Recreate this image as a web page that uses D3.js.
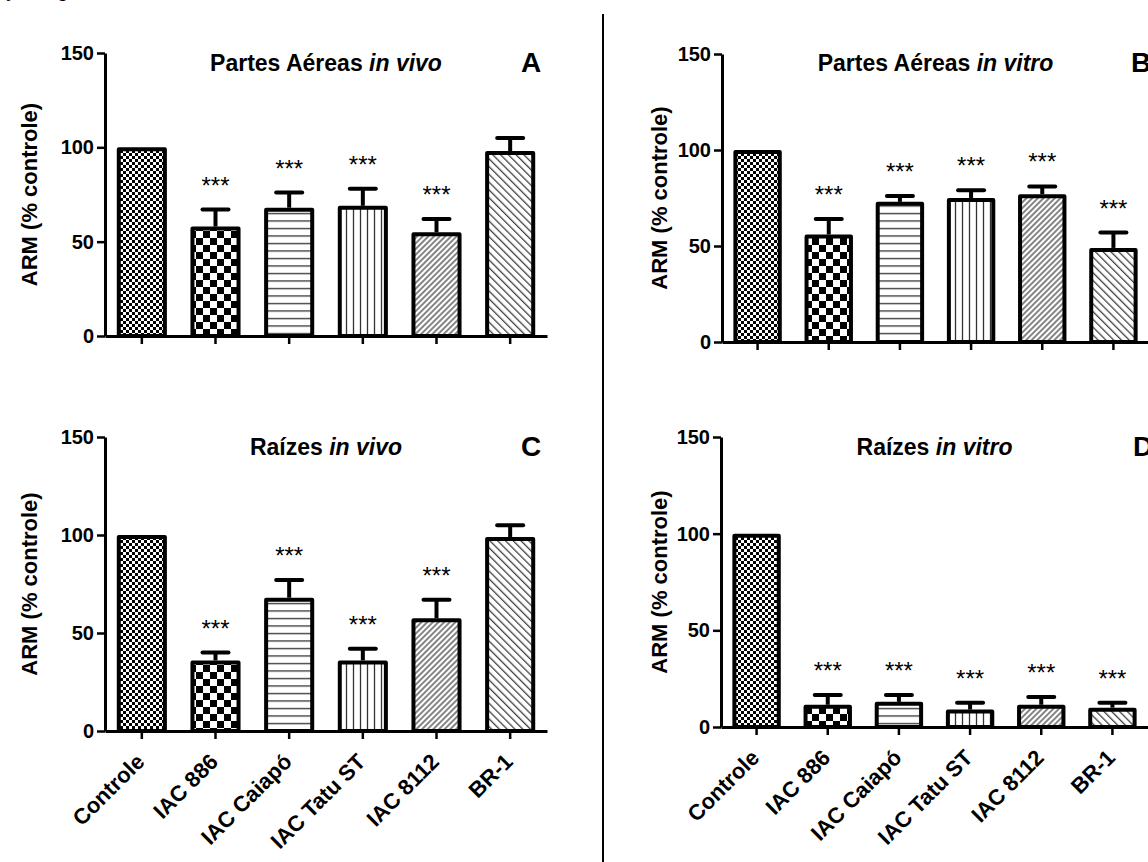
<!DOCTYPE html>
<html>
<head>
<meta charset="utf-8">
<script src="https://cdn.jsdelivr.net/npm/d3@7"></script>
<style>
  body { margin: 0; background: #fff; }
  svg { display: block; font-family: "Liberation Sans", Arial, sans-serif; }
  .tick text { font-weight: bold; font-size: 20px; fill: #000; }
  .xlab .tick text { font-size: 22px; }
  .ytitle { font-weight: bold; font-size: 22px; }
  .ptitle { font-weight: bold; font-size: 23px; }
  .letter { font-weight: bold; font-size: 28px; }
  .stars { font-size: 24px; }
</style>
</head>
<body>
<script>
var categories = ["Controle", "IAC 886", "IAC Caiapó", "IAC Tatu ST", "IAC 8112", "BR-1"];
var yTicks = [0, 50, 100, 150];

// means and upper error (SEM)
var aereasVivo = [100, 58, 68, 69, 55, 98];
var aereasVivoErr = [0, 9, 8, 9, 7, 7];
var aereasVivoStars = ["", "***", "***", "***", "***", ""];

var aereasVitro = [100, 56, 73, 75, 77, 49];
var aereasVitroErr = [0, 8, 3, 4, 4, 8];
var aereasVitroStars = ["", "***", "***", "***", "***", "***"];

var raizesVivo = [100, 36, 68, 36, 57.5, 99];
var raizesVivoErr = [0, 4, 9, 6, 9.5, 6];
var raizesVivoStars = ["", "***", "***", "***", "***", ""];

var raizesVitro = [100, 11.5, 13, 9, 11.5, 10];
var raizesVitroErr = [0, 5, 3.5, 3.5, 4, 2.5];
var raizesVitroStars = ["", "***", "***", "***", "***", "***"];

var fills = ["url(#fineCheck)", "url(#bigCheck)", "url(#hLines)", "url(#vLines)", "url(#diagUp)", "url(#diagDown)"];

var width = 1148, height = 862;

const svg = d3.select("body").append("svg")
  .attr("width", width)
  .attr("height", height);

// patterns
var defs = svg.append("defs");
var p1 = defs.append("pattern").attr("id", "fineCheck").attr("patternUnits", "userSpaceOnUse")
  .attr("width", 6).attr("height", 6);
p1.append("rect").attr("width", 6).attr("height", 6).attr("fill", "#fff");
p1.append("rect").attr("width", 3).attr("height", 3).attr("fill", "#000");
p1.append("rect").attr("x", 3).attr("y", 3).attr("width", 3).attr("height", 3).attr("fill", "#000");

var p2 = defs.append("pattern").attr("id", "bigCheck").attr("patternUnits", "userSpaceOnUse")
  .attr("width", 14).attr("height", 14);
p2.append("rect").attr("width", 14).attr("height", 14).attr("fill", "#fff");
p2.append("rect").attr("width", 7).attr("height", 7).attr("fill", "#000");
p2.append("rect").attr("x", 7).attr("y", 7).attr("width", 7).attr("height", 7).attr("fill", "#000");

var p3 = defs.append("pattern").attr("id", "hLines").attr("patternUnits", "userSpaceOnUse")
  .attr("width", 10).attr("height", 7.5);
p3.append("rect").attr("width", 10).attr("height", 7.5).attr("fill", "#fff");
p3.append("line").attr("x1", 0).attr("x2", 10).attr("y1", 3.5).attr("y2", 3.5)
  .attr("stroke", "#333").attr("stroke-width", 1.3);

var p4 = defs.append("pattern").attr("id", "vLines").attr("patternUnits", "userSpaceOnUse")
  .attr("width", 7).attr("height", 10);
p4.append("rect").attr("width", 7).attr("height", 10).attr("fill", "#fff");
p4.append("line").attr("y1", 0).attr("y2", 10).attr("x1", 3.5).attr("x2", 3.5)
  .attr("stroke", "#333").attr("stroke-width", 1.3);

var p5 = defs.append("pattern").attr("id", "diagUp").attr("patternUnits", "userSpaceOnUse")
  .attr("width", 4).attr("height", 10).attr("patternTransform", "rotate(45)");
p5.append("rect").attr("width", 4).attr("height", 10).attr("fill", "#fff");
p5.append("line").attr("y1", 0).attr("y2", 10).attr("x1", 2).attr("x2", 2)
  .attr("stroke", "#333").attr("stroke-width", 1.2);

var p6 = defs.append("pattern").attr("id", "diagDown").attr("patternUnits", "userSpaceOnUse")
  .attr("width", 5.5).attr("height", 10).attr("patternTransform", "rotate(-45)");
p6.append("rect").attr("width", 5.5).attr("height", 10).attr("fill", "#fff");
p6.append("line").attr("y1", 0).attr("y2", 10).attr("x1", 2.5).attr("x2", 2.5)
  .attr("stroke", "#333").attr("stroke-width", 1.2);

// cut off text from the page above
svg.append("text").attr("x", 8).attr("y", -3).style("font-size", "20px").style("font-style", "italic").text("y,");
svg.append("text").attr("x", 57).attr("y", -3).style("font-size", "20px").text("g");

// divider
svg.append("line")
  .attr("x1", 603).attr("x2", 603).attr("y1", 14).attr("y2", height)
  .attr("stroke", "#000").attr("stroke-width", 2);

function panel(opt) {
  var x = d3.scaleBand()
    .domain(categories)
    .range([opt.x0, opt.x1])
    .paddingInner(0.32)
    .paddingOuter(0.16);
  var y = d3.scaleLinear()
    .domain([0, 150])
    .range([opt.yb, opt.yt]);

  var g = svg.append("g");
  var rows = categories.map(function (c, i) {
    return { cat: c, v: opt.values[i], e: opt.err[i], s: opt.stars[i], i: i };
  });

  // bars
  g.selectAll("rect.bar")
    .data(rows)
    .join("rect")
    .attr("class", "bar")
    .attr("x", d => x(d.cat) + 2)
    .attr("y", d => y(d.v) + 2)
    .attr("width", x.bandwidth() - 4)
    .attr("height", d => y(0) - y(d.v) - 2)
    .attr("fill", d => fills[d.i])
    .attr("stroke", "#000")
    .attr("stroke-width", 4)
    .attr("stroke-linejoin", "round");

  // error bars (upper only)
  var eb = g.selectAll("g.err")
    .data(rows.filter(d => d.e > 0))
    .join("g")
    .attr("class", "err");
  eb.append("line")
    .attr("x1", d => x(d.cat) + x.bandwidth() / 2)
    .attr("x2", d => x(d.cat) + x.bandwidth() / 2)
    .attr("y1", d => y(d.v))
    .attr("y2", d => y(d.v + d.e))
    .attr("stroke", "#000").attr("stroke-width", 4);
  eb.append("line")
    .attr("x1", d => x(d.cat) + x.bandwidth() / 2 - 13)
    .attr("x2", d => x(d.cat) + x.bandwidth() / 2 + 13)
    .attr("y1", d => y(d.v + d.e))
    .attr("y2", d => y(d.v + d.e))
    .attr("stroke", "#000").attr("stroke-width", 4).attr("stroke-linecap", "round");

  // significance stars
  g.selectAll("text.stars")
    .data(rows.filter(d => d.s))
    .join("text")
    .attr("class", "stars")
    .attr("text-anchor", "middle")
    .attr("x", d => x(d.cat) + x.bandwidth() / 2)
    .attr("y", d => y(d.v + d.e) - 16)
    .text(d => d.s);

  // axes
  var xa = g.append("g")
    .attr("class", "xlab")
    .attr("transform", "translate(0," + y(0) + ")")
    .call(d3.axisBottom(x).tickSize(8).tickSizeOuter(0));
  var ya = g.append("g")
    .attr("transform", "translate(" + opt.x0 + ",0)")
    .call(d3.axisLeft(y).tickValues(yTicks).tickSize(8).tickSizeOuter(0).tickPadding(3));
  [xa, ya].forEach(function (a) {
    a.select(".domain").attr("stroke-width", 3);
    a.selectAll(".tick line").attr("stroke-width", 2.5);
  });
  if (opt.labels) {
    xa.selectAll(".tick text")
      .attr("text-anchor", "end")
      .attr("x", 0).attr("y", 0).attr("dy", 0)
      .attr("transform", "translate(4,32) rotate(-45)");
  } else {
    xa.selectAll(".tick text").remove();
  }

  // y title
  svg.append("text")
    .attr("class", "ytitle")
    .attr("text-anchor", "middle")
    .attr("transform", "translate(" + opt.ytx + "," + (opt.yb + opt.yt) / 2 + ") rotate(-90)")
    .text("ARM (% controle)");

  // panel title, centred over the plot
  var t = svg.append("text")
    .attr("class", "ptitle")
    .attr("text-anchor", "middle")
    .attr("x", (opt.x0 + opt.x1) / 2)
    .attr("y", opt.ty);
  t.append("tspan").text(opt.title + " ");
  t.append("tspan").style("font-style", "italic").text(opt.titleIt);

  svg.append("text")
    .attr("class", "letter")
    .attr("x", opt.lx)
    .attr("y", opt.ty + 1)
    .text(opt.letter);
}

panel({ x0: 105, x1: 547, yb: 336, yt: 53, values: aereasVivo, err: aereasVivoErr, stars: aereasVivoStars,
  labels: false, ytx: 37, title: "Partes Aéreas", titleIt: "in vivo", ty: 71, letter: "A", lx: 521 });
panel({ x0: 722, x1: 1149, yb: 342, yt: 54, values: aereasVitro, err: aereasVitroErr, stars: aereasVitroStars,
  labels: false, ytx: 667, title: "Partes Aéreas", titleIt: "in vitro", ty: 71, letter: "B", lx: 1131 });
panel({ x0: 105, x1: 547, yb: 731, yt: 437, values: raizesVivo, err: raizesVivoErr, stars: raizesVivoStars,
  labels: true, ytx: 37, title: "Raízes", titleIt: "in vivo", ty: 455, letter: "C", lx: 521 });
panel({ x0: 721, x1: 1148, yb: 727, yt: 437, values: raizesVitro, err: raizesVitroErr, stars: raizesVitroStars,
  labels: true, ytx: 667, title: "Raízes", titleIt: "in vitro", ty: 455, letter: "D", lx: 1133 });
</script>
</body>
</html>
